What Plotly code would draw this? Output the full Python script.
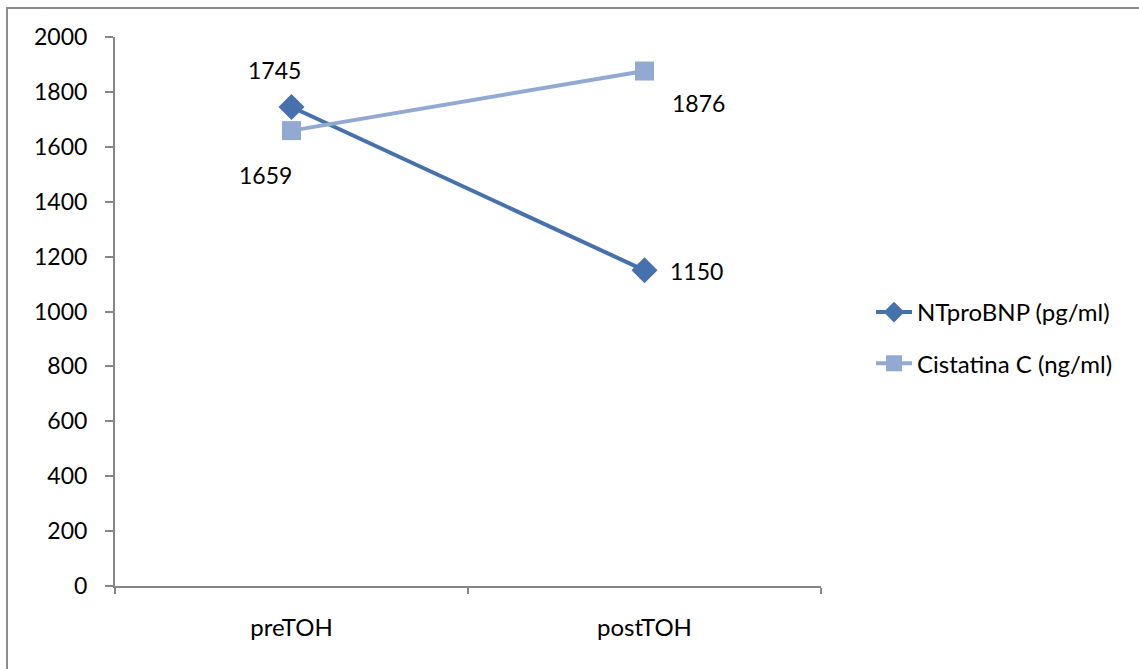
import plotly.graph_objects as go

# Categories and series
categories = ["preTOH", "postTOH"]
ntprobnp = [1745, 1150]
cistatina = [1659, 1876]
series_names = ["NTproBNP (pg/ml)", "Cistatina C (ng/ml)"]
y_ticks = list(range(0, 2001, 200))

W, H = 1139, 669
ML, MR, MT, MB = 115, 318, 37, 83
PW, PH = W - ML - MR, H - MT - MB

FONT = "Lato"
AXIS_GREY = "#868686"
DARK_BLUE = "#4571AC"
LIGHT_BLUE = "#92AAD2"

fig = go.Figure()

fig.add_trace(go.Scatter(
    x=categories, y=ntprobnp, name=series_names[0], mode="lines+markers",
    line=dict(color=DARK_BLUE, width=4),
    marker=dict(symbol="diamond", size=20, color=DARK_BLUE),
    legendgroup="a",
))
fig.add_trace(go.Scatter(
    x=categories, y=cistatina, name=series_names[1], mode="lines+markers",
    line=dict(color=LIGHT_BLUE, width=4),
    marker=dict(symbol="square", size=19, color=LIGHT_BLUE),
    legendgroup="b",
))

# Value labels, placed around each point
label_offsets_a = [(-17, 37), (52, -1)]
label_offsets_b = [(-26, -44), (54, -32)]
for vals, offs in ((ntprobnp, label_offsets_a), (cistatina, label_offsets_b)):
    for cat, v, (dx, dy) in zip(categories, vals, offs):
        fig.add_annotation(
            x=cat, y=v, text=str(v), showarrow=False,
            xshift=dx, yshift=dy,
            font=dict(family=FONT, size=23, color="#000000"),
        )

# Outer chart frame (extends past the right and bottom edges)
fx0 = (7 - ML) / PW
fy1 = 1 + (MT - 8) / PH
fig.add_shape(type="rect", xref="paper", yref="paper",
              x0=fx0, x1=2.0, y0=-1.0, y1=fy1,
              line=dict(color="#8C8C8C", width=2), fillcolor="rgba(0,0,0,0)",
              layer="below")

fig.update_layout(
    width=W, height=H,
    margin=dict(l=ML, r=MR, t=MT, b=MB),
    paper_bgcolor="white", plot_bgcolor="white",
    font=dict(family=FONT, size=24, color="#000000"),
    showlegend=True,
    legend=dict(
        x=(871 - ML) / PW, y=(MT + PH - 315 + 25) / PH, xanchor="left", yanchor="top",
        font=dict(family=FONT, size=24, color="#000000"),
        tracegroupgap=17, bgcolor="rgba(0,0,0,0)", itemwidth=36,
    ),
    xaxis=dict(
        type="category", range=[-0.5, 1.5], tickson="boundaries",
        showline=True, linecolor=AXIS_GREY, linewidth=2,
        ticks="outside", ticklen=6, tickcolor=AXIS_GREY, tickwidth=2,
        showgrid=False, zeroline=False, ticklabelstandoff=19,
        tickfont=dict(family=FONT, size=24),
    ),
    yaxis=dict(
        range=[0, 2000], tickvals=y_ticks,
        showline=True, linecolor=AXIS_GREY, linewidth=2,
        ticks="outside", ticklen=8, tickcolor=AXIS_GREY, tickwidth=2,
        showgrid=False, zeroline=False, ticklabelstandoff=13,
        tickfont=dict(family=FONT, size=23),
    ),
)

fig.write_html("out.html")
